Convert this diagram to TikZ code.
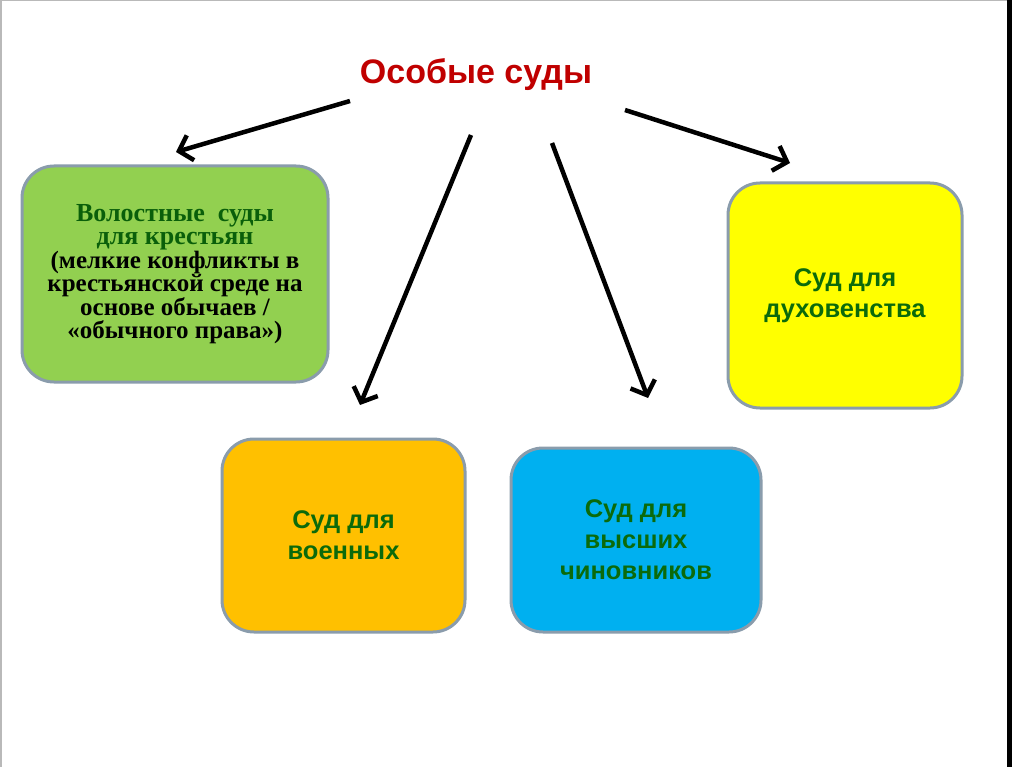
\documentclass[tikz,border=0pt]{standalone}
\usepackage{fontspec}
\setmainfont{Liberation Serif}
\newfontfamily\arialfont{Liberation Sans}
\usetikzlibrary{arrows.meta}

\definecolor{titlered}{HTML}{C00000}
\definecolor{textgreen}{HTML}{0B6A0B}
\definecolor{darkgreen}{HTML}{0A5F0A}
\definecolor{courtline}{HTML}{8A9CAC}
\definecolor{greenfill}{HTML}{92D050}
\definecolor{yellowfill}{HTML}{FFFF00}
\definecolor{orangefill}{HTML}{FFC000}
\definecolor{bluefill}{HTML}{00B0F0}

\newcommand{\headline}[1]{\textcolor{darkgreen}{\fontsize{26}{23.5}\selectfont #1}}

\begin{document}
\begin{tikzpicture}[x=1pt, y=-1pt,
    court/.style={draw=courtline, line width=3pt, rounded corners=32pt, align=center, inner sep=0pt},
    sudtext/.style={font=\arialfont\bfseries\fontsize{25.5}{31}\selectfont, text=textgreen},
    pointer/.style={line width=4.5pt, -{Straight Barb[length=12pt, width=26pt]}}]

    % Page frame
    \useasboundingbox (0,0) rectangle (1024,767);
    \fill[white] (0,0) rectangle (1024,767);
    \draw[gray!55, line width=1.5pt] (0.75,767) -- (0.75,0.75) -- (1008,0.75);
    \fill[black] (1007,0) rectangle (1012,767);

    % Title
    \node[font=\arialfont\bfseries\fontsize{34}{38}\selectfont, text=titlered] (title) at (476,75) {Особые суды};

    % Green box (peasants)
    \node[court, fill=greenfill, minimum width=306pt, minimum height=216pt,
          font=\bfseries\fontsize{25}{23.5}\selectfont, text=black] (volost) at (175,274)
        {\headline{Волостные \ суды}\\ \headline{для крестьян}\\
         (мелкие конфликты в\\ крестьянской среде на\\ основе обычаев /\\ «обычного права»)};

    % Yellow box (clergy)
    \node[court, sudtext, fill=yellowfill, minimum width=234pt, minimum height=225pt] (clergy) at (845,295.5)
        {Суд для\\ духовенства};

    % Orange box (military)
    \node[court, sudtext, fill=orangefill, minimum width=243pt, minimum height=193pt] (military) at (343.5,535.5)
        {Суд для\\ военных};

    % Blue box (officials)
    \node[court, sudtext, fill=bluefill, minimum width=250pt, minimum height=184pt] (officials) at (636,540)
        {Суд для\\ высших\\ чиновников};

    % Arrow ends
    \coordinate (s1) at (350,101);
    \coordinate (e1) at (176,152);
    \coordinate (s2) at (471,135);
    \coordinate (e2) at (360,405);
    \coordinate (s3) at (552,143);
    \coordinate (e3) at (648,398);
    \coordinate (s4) at (625,110);
    \coordinate (e4) at (790,163);

    % Arrows
    \draw[pointer] (s1) -- (e1);
    \draw[pointer] (s2) -- (e2);
    \draw[pointer] (s3) -- (e3);
    \draw[pointer] (s4) -- (e4);
\end{tikzpicture}
\end{document}
